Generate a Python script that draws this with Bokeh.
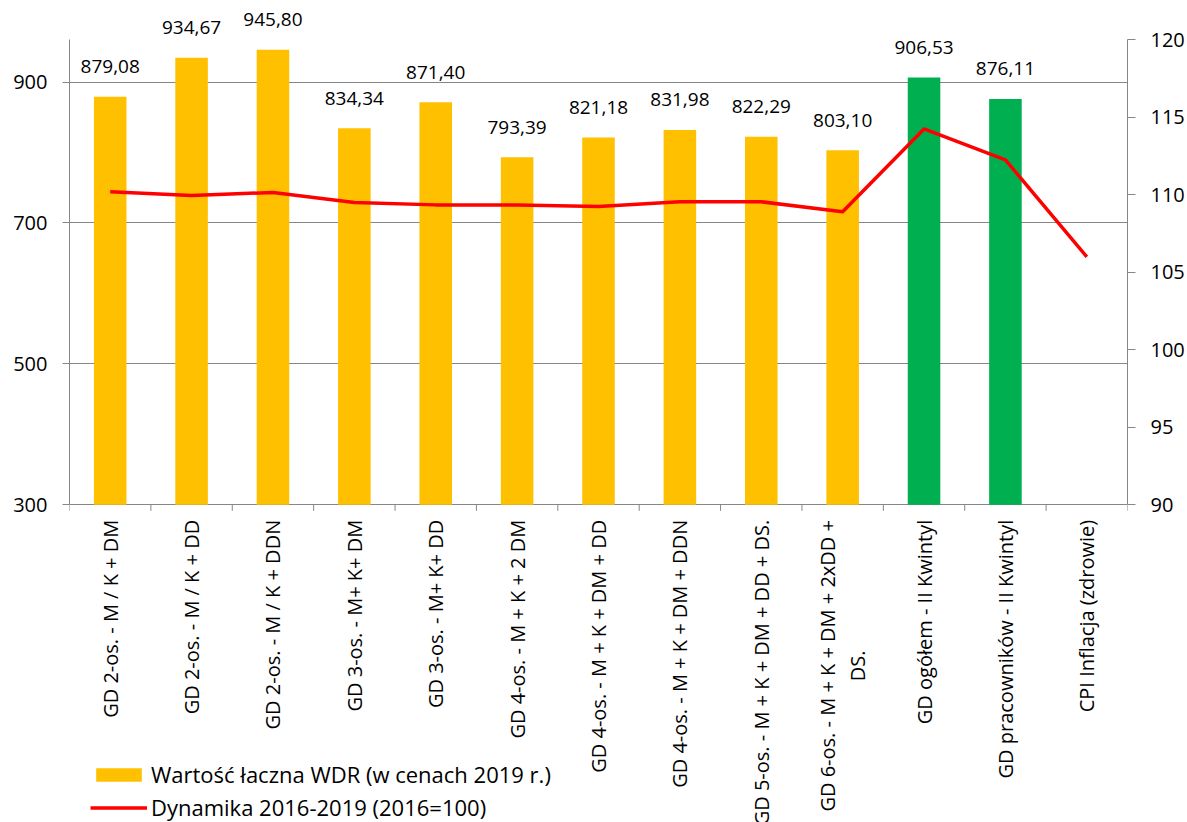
import math
from bokeh.plotting import figure
from bokeh.models import (Range1d, LinearAxis, FixedTicker, Legend, LegendItem,
                          ColumnDataSource, LabelSet)
from bokeh.core.properties import value
from bokeh.embed import file_html
from bokeh.resources import INLINE

# ---------------- data ----------------
categories = [
    "GD 2-os. - M / K + DM",
    "GD 2-os. - M / K + DD",
    "GD 2-os. - M / K + DDN",
    "GD 3-os. - M+ K+ DM",
    "GD 3-os. - M+ K+ DD",
    "GD 4-os. - M + K + 2 DM",
    "GD 4-os. - M + K + DM + DD",
    "GD 4-os. - M + K + DM + DDN",
    "GD 5-os. - M + K + DM + DD + DS.",
    "GD 6-os. - M + K + DM + 2xDD +\nDS.",
    "GD ogółem - II Kwintyl",
    "GD pracowników - II Kwintyl",
    "CPI Inflacja (zdrowie)",
]
wdr_values = [879.08, 934.67, 945.80, 834.34, 871.40, 793.39, 821.18,
              831.98, 822.29, 803.10, 906.53, 876.11]
bar_group = ["gd"] * 10 + ["ogol"] * 2
dynamika = [110.2, 109.95, 110.15, 109.5, 109.35, 109.35, 109.25,
            109.55, 109.55, 108.9, 114.25, 112.25, 106.0]
left_ticks = [300, 500, 700, 900]
right_ticks = [90, 95, 100, 105, 110, 115, 120]
legend_labels = ["Wartość łaczna WDR (w cenach 2019 r.)", "Dynamika 2016-2019 (2016=100)"]

# ---------------- style / layout ----------------
YELLOW = "#FFC000"
GREEN = "#00B050"
RED = "#FF0000"
GRAY = "#868686"
FONT = "Open Sans"
W, H = 1187, 822
BORDER_L, BORDER_R = 69, 60
AX_TOP_PX, AX_BOT_PX = 39.3, 504.3        # pixel rows of axis top / bottom
L_MIN, L_MAX = 300, 960                    # left axis extent
R_MIN, R_MAX = 90, 120                     # right axis extent
CAT_STANDOFF = 15                          # px between axis and category labels
WRAP_CENTER = 161                          # px from axis to centre of wrapped label

axis_px = AX_BOT_PX - AX_TOP_PX
ls = axis_px / (L_MAX - L_MIN)             # px per left unit
rs = axis_px / (R_MAX - R_MIN)             # px per right unit
y_range = Range1d(L_MIN - (H - AX_BOT_PX) / ls, L_MAX + AX_TOP_PX / ls)
r_range = Range1d(R_MIN - (H - AX_BOT_PX) / rs, R_MAX + AX_TOP_PX / rs)

group_color = {"gd": YELLOW, "ogol": GREEN}
n = len(categories)
centers = [i + 0.5 for i in range(n)]
boundaries = list(range(n + 1))

bar_src = ColumnDataSource(dict(
    x=centers[:len(wdr_values)],
    top=wdr_values,
    color=[group_color[g] for g in bar_group],
    label=[f"{v:.2f}".replace(".", ",") for v in wdr_values],
))
line_src = ColumnDataSource(dict(x=centers, y=dynamika))
single = [(c, t) for c, t in zip(centers, categories) if "\n" not in t]
wrapped = [(c, t) for c, t in zip(centers, categories) if "\n" in t]
cat_src = ColumnDataSource(dict(x=[c for c, _ in single], y=[L_MIN] * len(single),
                                text=[t for _, t in single]))
wrap_src = ColumnDataSource(dict(x=[c for c, _ in wrapped], y=[L_MIN] * len(wrapped),
                                 text=[t for _, t in wrapped]))

p = figure(width=W, height=H, output_backend="svg", toolbar_location=None,
           x_range=Range1d(0, n), y_range=y_range,
           min_border_left=BORDER_L, min_border_right=BORDER_R,
           min_border_top=0, min_border_bottom=0)
p.xaxis.visible = False
p.outline_line_color = None
p.background_fill_color = "white"
p.border_fill_color = "white"
p.xgrid.visible = False
p.ygrid.ticker = FixedTicker(ticks=left_ticks)
p.ygrid.grid_line_color = GRAY
p.ygrid.grid_line_width = 1
p.extra_y_ranges = {"dyn": r_range}

bars = p.vbar(x="x", top="top", bottom=L_MIN, width=0.4, source=bar_src,
              fill_color="color", line_color=None)

line = p.line(x="x", y="y", source=line_src, y_range_name="dyn",
              line_color=RED, line_width=3.5, line_join="round")

# category tick marks (between categories)
p.segment(x0=boundaries, y0=[L_MIN] * (n + 1), x1=boundaries,
          y1=[L_MIN - 6 / ls] * (n + 1), line_color=GRAY, line_width=1)

# category labels
cat_style = dict(angle=math.pi / 2, text_baseline="middle",
                 text_font=value(FONT), text_font_size="20px", text_color="black",
                 text_line_height=1.1)
p.text(x="x", y="y", text="text", source=cat_src, text_align="right",
       y_offset=CAT_STANDOFF, **cat_style)
p.text(x="x", y="y", text="text", source=wrap_src, text_align="center",
       y_offset=WRAP_CENTER, **cat_style)

labels = LabelSet(x="x", y="top", text="label", source=bar_src,
                  text_align="center", text_baseline="middle", y_offset=30,
                  text_font=value(FONT), text_font_size="19px", text_color="black")
p.add_layout(labels)

# left axis
yax = p.yaxis[0]
yax.ticker = FixedTicker(ticks=left_ticks)
yax.bounds = (L_MIN, L_MAX)
yax.axis_line_color = GRAY
yax.major_tick_line_color = GRAY
yax.major_tick_out = 7
yax.major_tick_in = 0
yax.minor_tick_line_color = None
yax.major_label_standoff = 15
yax.major_label_text_font = FONT
yax.major_label_text_font_size = "20px"
yax.major_label_text_color = "black"

# right axis
rax = LinearAxis(y_range_name="dyn", ticker=FixedTicker(ticks=right_ticks),
                 bounds=(R_MIN, R_MAX))
rax.axis_line_color = GRAY
rax.major_tick_line_color = GRAY
rax.major_tick_out = 8
rax.major_tick_in = 0
rax.minor_tick_line_color = None
rax.major_label_standoff = 15
rax.major_label_text_font = FONT
rax.major_label_text_font_size = "20px"
rax.major_label_text_color = "black"
p.add_layout(rax, "right")

legend = Legend(items=[
    LegendItem(label=legend_labels[0], renderers=[bars], index=0),
    LegendItem(label=legend_labels[1], renderers=[line]),
], location=(21, 0), orientation="vertical")
legend.border_line_color = None
legend.background_fill_alpha = 0
legend.padding = 0
legend.margin = 0
legend.glyph_width = 57
legend.glyph_height = 17
legend.label_standoff = 4
legend.spacing = 3
legend.label_text_font = FONT
legend.label_text_font_size = "22px"
legend.label_text_color = "black"
p.add_layout(legend)

open("out.html", "w").write(file_html(p, INLINE))
